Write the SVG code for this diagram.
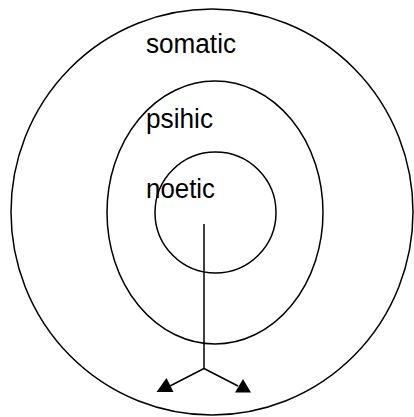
<svg xmlns="http://www.w3.org/2000/svg" width="414" height="417" viewBox="0 0 414 417">
<style>
.ring{fill:none;stroke:#000;stroke-width:1.5}
.lbl{font-family:"Liberation Sans",Arial,sans-serif;font-size:27px;fill:#000}
.con{fill:none;stroke:#000;stroke-width:1.5}
</style>
<rect width="414" height="417" fill="#fff"/>
<g id="somatic"><ellipse class="ring" cx="212" cy="212" rx="201" ry="203"/><text class="lbl" x="146" y="53" textLength="90" lengthAdjust="spacingAndGlyphs">somatic</text></g>
<g id="psihic"><ellipse class="ring" cx="215" cy="212.5" rx="108" ry="131.5"/><text class="lbl" x="146" y="128" textLength="67" lengthAdjust="spacingAndGlyphs">psihic</text></g>
<g id="noetic"><circle class="ring" cx="215.5" cy="212.5" r="60.5"/><text class="lbl" x="146" y="198" textLength="69" lengthAdjust="spacingAndGlyphs">noetic</text></g>
<g id="connectors">
<path class="con" d="M204 224 V368.5 L170 386 M204 368.5 L238 386"/>
<polygon points="156.5,392 173.5,392 166.5,378" fill="#000"/>
<polygon points="235,392.5 251,392.5 243,379" fill="#000"/>
</g>
</svg>
